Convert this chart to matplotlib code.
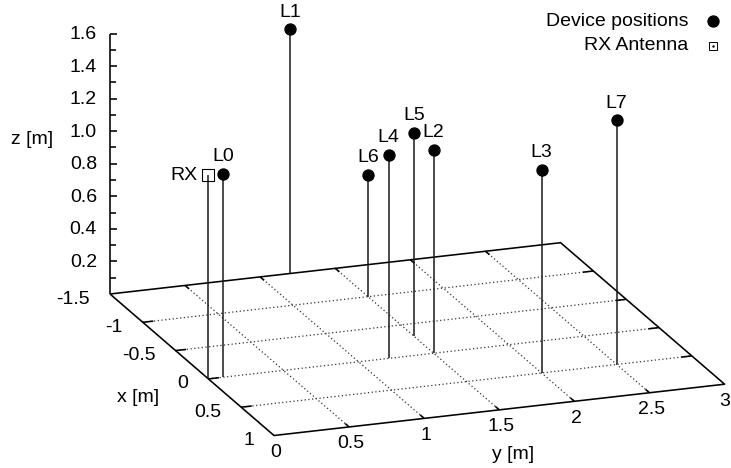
import matplotlib
matplotlib.use('Agg')
import matplotlib.pyplot as plt
import numpy as np

# ---------------- data ----------------
dev_labels = ['L0', 'L1', 'L2', 'L3', 'L4', 'L5', 'L6', 'L7']
dev_x = [0.0, -1.5, 0.0, 0.5, 0.0, -0.3, -1.0, 0.5]
dev_y = [0.1, 1.2, 1.5, 2.0, 1.2, 1.5, 1.5, 2.5]
dev_z = [1.25, 1.5, 1.25, 1.25, 1.25, 1.25, 0.75, 1.5]

rx_label = 'RX'
rx_x = [0.0]
rx_y = [0.0]
rx_z = [1.25]

x_ticks = [-1.5, -1.0, -0.5, 0.0, 0.5, 1.0]
x_tick_labels = ['-1.5', '-1', '-0.5', '0', '0.5', '1']
y_ticks = [0.0, 0.5, 1.0, 1.5, 2.0, 2.5, 3.0]
y_tick_labels = ['0', '0.5', '1', '1.5', '2', '2.5', '3']
z_ticks = [0.2, 0.4, 0.6, 0.8, 1.0, 1.2, 1.4, 1.6]
z_tick_labels = ['0.2', '0.4', '0.6', '0.8', '1.0', '1.2', '1.4', '1.6']
z_minor = [0.1, 0.3, 0.5, 0.7, 0.9, 1.1, 1.3, 1.5]

x_range = (-1.5, 1.0)
y_range = (0.0, 3.0)
z_range = (0.0, 1.6)

# ---------------- view (orthographic projection, pixels) ----------------
W, H = 731, 468
ORIGIN = np.array([110.0, 294.0])     # screen position of (xmin, ymin, zmin)
EX = np.array([65.6, 56.6])           # screen step per unit x
EY = np.array([150.2, -17.1])         # screen step per unit y
EZ = np.array([0.0, -162.8])          # screen step per unit z


def proj(x, y, z):
    x = np.asarray(x, float); y = np.asarray(y, float); z = np.asarray(z, float)
    p = (ORIGIN[:, None] * 1.0
         + EX[:, None] * (x - x_range[0])[None, :]
         + EY[:, None] * (y - y_range[0])[None, :]
         + EZ[:, None] * (z - z_range[0])[None, :])
    return p[0], p[1]


def seg(ax, x, y, z, **kw):
    u, v = proj(x, y, z)
    ax.plot(u, v, **kw)


plt.rcParams['font.family'] = ['Liberation Sans', 'DejaVu Sans']
FS = 14

fig = plt.figure(figsize=(W / 100, H / 100), dpi=100)
ax = fig.add_axes([0, 0, 1, 1])
ax.set_xlim(0, W)
ax.set_ylim(H, 0)
ax.axis('off')

x0, x1 = x_range
y0, y1 = y_range
z0, z1 = z_range

grid_kw = dict(color='#333333', lw=0.9, linestyle=(0, (1, 2.0)), zorder=1)
# grid lines on the base plane
for xv in x_ticks[1:-1]:
    seg(ax, [xv, xv], [y0, y1], [z0, z0], **grid_kw)
for yv in y_ticks[1:-1]:
    seg(ax, [x0, x1], [yv, yv], [z0, z0], **grid_kw)

border_kw = dict(color='black', lw=1.15, zorder=2, solid_capstyle='butt')
# base border
seg(ax, [x0, x1, x1, x0, x0], [y0, y0, y1, y1, y0], [z0] * 5, **border_kw)
# z axis
seg(ax, [x0, x0], [y0, y0], [z0, z1], **border_kw)

# x ticks (on y=ymin and y=ymax edges, pointing inward)
xt_len = 0.07
for xv in x_ticks[1:-1]:
    seg(ax, [xv, xv], [y0, y0 + xt_len], [z0, z0], **border_kw)
    seg(ax, [xv, xv], [y1, y1 - xt_len], [z0, z0], **border_kw)
# y ticks (on x=xmin and x=xmax edges)
yt_len = 0.06
for yv in y_ticks[1:-1]:
    seg(ax, [x0, x0 + yt_len], [yv, yv], [z0, z0], **border_kw)
    seg(ax, [x1, x1 - yt_len], [yv, yv], [z0, z0], **border_kw)
# z ticks (screen-space to the right)
for zv in z_ticks + z_minor:
    u, v = proj([x0], [y0], [zv])
    L = 7 if zv in z_ticks else 6
    ax.plot([u[0], u[0] + L], [v[0], v[0]], **border_kw)

# tick labels
for xv, lab in zip(x_ticks, x_tick_labels):
    u, v = proj([xv], [y0], [z0])
    ax.text(u[0] - 20, v[0] + 5, lab, ha='right', va='center', fontsize=FS)
for yv, lab in zip(y_ticks, y_tick_labels):
    u, v = proj([x1], [yv], [z0])
    ax.text(min(u[0] + 2, W - 6), v[0] + 17, lab, ha='center', va='center', fontsize=FS)
for zv, lab in zip(z_ticks, z_tick_labels):
    u, v = proj([x0], [y0], [zv])
    ax.text(u[0] - 13, v[0] + 1, lab, ha='right', va='center', fontsize=FS)

# axis labels
ux, vx = proj([0.0], [y0], [z0])
ax.text(ux[0] - 70, vx[0] + 19, 'x [m]', ha='center', va='center', fontsize=FS)
uy, vy = proj([x1], [1.5], [z0])
ax.text(uy[0] + 14, vy[0] + 45, 'y [m]', ha='center', va='center', fontsize=FS)
uz, vz = proj([x0], [y0], [0.95])
ax.text(uz[0] - 78, vz[0], 'z [m]', ha='center', va='center', fontsize=FS)

# impulses (stems)
stem_kw = dict(color='#1a1a1a', lw=1.1, zorder=4, solid_capstyle='butt')
for xs, ys, zs in zip(rx_x + dev_x, rx_y + dev_y, rx_z + dev_z):
    seg(ax, [xs, xs], [ys, ys], [z0, zs], **stem_kw)

# points
u, v = proj(dev_x, dev_y, dev_z)
ax.plot(u, v, 'o', color='black', markersize=7.9, zorder=6, linestyle='none')
for uu, vv, lab in zip(u, v, dev_labels):
    ax.text(uu, vv - 17, lab, ha='center', va='center', fontsize=FS, zorder=7)

ur, vr = proj(rx_x, rx_y, rx_z)
ax.plot(ur, vr, 's', markerfacecolor='none', markeredgecolor='black',
        markeredgewidth=0.8, markersize=8.2, zorder=6, linestyle='none')
ax.text(ur[0] - 11, vr[0], rx_label, ha='right', va='center', fontsize=FS, zorder=7)

# legend
ax.text(688, 21, 'Device positions', ha='right', va='center', fontsize=FS)
ax.plot([713], [21], 'o', color='black', markersize=7.9)
ax.text(688, 46, 'RX Antenna', ha='right', va='center', fontsize=FS)
ax.plot([713], [46], 's', markerfacecolor='none', markeredgecolor='black',
        markeredgewidth=0.7, markersize=5.8)
ax.plot([713], [46], '.', color='black', markersize=1.5)

fig.savefig('out.png', dpi=100)
